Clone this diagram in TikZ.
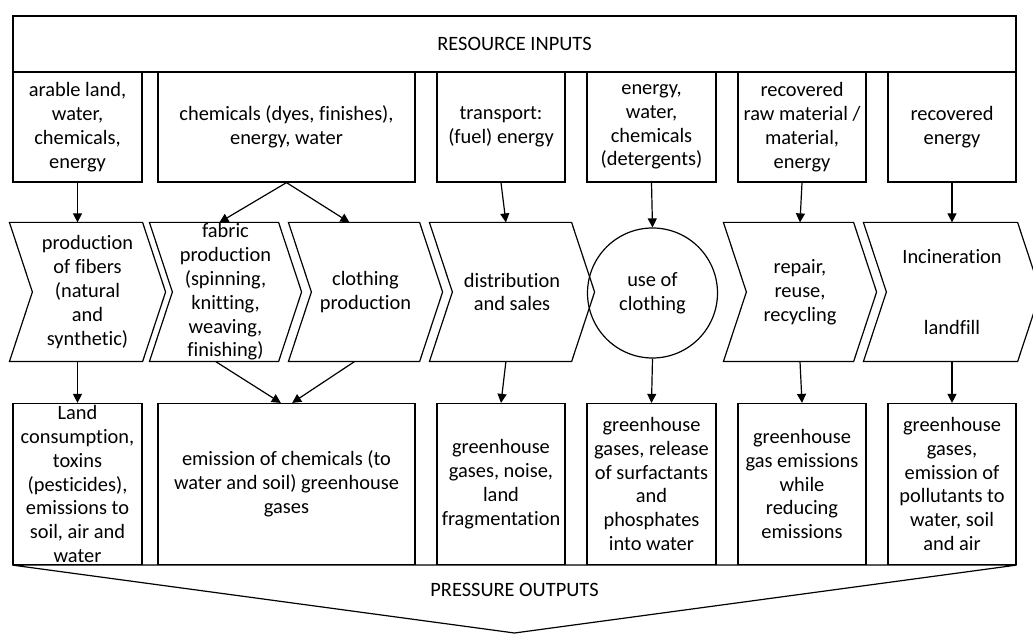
\documentclass[tikz,border=0pt]{standalone}
\usepackage{fontspec}
\setmainfont{Carlito}[Ligatures=NoCommon]
\usepackage{tikz}
\usetikzlibrary{arrows.meta}

\begin{document}
\begin{tikzpicture}[x=0.5pt, y=-0.5pt, line width=0.6pt,
		text_style/.style={align=center, inner sep=0pt, font=\fontsize{10.2}{11.9}\selectfont},
		box_style/.style={text_style, rectangle, draw=black},
		in_style/.style={box_style, minimum height=55pt},
		out_style/.style={box_style, minimum height=80.5pt},
		stage_style/.style={text_style, rectangle, minimum height=69pt},
		circle_style/.style={text_style, circle, draw=black, minimum size=65pt},
		edge_style/.style={draw=black, -{Triangle[length=4.5pt,width=4.5pt]}}]

		\useasboundingbox (0,0) rectangle (1033,635);

		% resource inputs
		\node[box_style, minimum width=501.5pt, minimum height=28pt] (inputs) at (514.5,44) {RESOURCE INPUTS};
		\node[in_style, minimum width=64.5pt] (in1) at (77.5,127) {arable land,\\ water,\\ chemicals,\\ energy};
		\node[in_style, minimum width=128.5pt] (in2) at (286.5,127) {chemicals (dyes, finishes),\\ energy, water};
		\node[in_style, minimum width=64pt] (in3) at (501,127) {transport:\\ (fuel) energy};
		\node[in_style, minimum width=64.5pt] (in4) at (651.5,127) {energy,\\ water,\\ chemicals\\ (detergents)};
		\node[in_style, minimum width=64pt] (in5) at (802,127) {recovered\\ raw material /\\ material,\\ energy};
		\node[in_style, minimum width=64pt] (in6) at (952,127) {recovered\\ energy};

		% life cycle stages
		\node[stage_style, minimum width=54.5pt] (fibers) at (87.5,292) {production\\ of fibers\\ (natural\\ and\\ synthetic)};
		\node[stage_style, minimum width=52.5pt] (fabric) at (225.5,292) {fabric\\ production\\ (spinning,\\ knitting,\\ weaving,\\ finishing)};
		\node[stage_style, minimum width=53.5pt] (clothing) at (365.5,292) {clothing\\ production};
		\node[stage_style, minimum width=59pt] (dist) at (512,292) {distribution\\ and sales};
		\node[stage_style, minimum width=53pt] (repair) at (800,292) {repair,\\ reuse,\\ recycling};
		\node[stage_style, minimum width=65pt] (incin) at (952,292) {Incineration\\[24pt] landfill};

		\draw ([xshift=-11.5pt]fibers.north west) -- (fibers.north east) -- ([xshift=11.5pt]fibers.east) -- (fibers.south east) -- ([xshift=-11.5pt]fibers.south west) -- (fibers.west) -- cycle;
		\draw ([xshift=-11.5pt]fabric.north west) -- (fabric.north east) -- ([xshift=11.5pt]fabric.east) -- (fabric.south east) -- ([xshift=-11.5pt]fabric.south west) -- (fabric.west) -- cycle;
		\draw ([xshift=-11.5pt]clothing.north west) -- (clothing.north east) -- ([xshift=11.5pt]clothing.east) -- (clothing.south east) -- ([xshift=-11.5pt]clothing.south west) -- (clothing.west) -- cycle;
		\draw ([xshift=-11.5pt]dist.north west) -- (dist.north east) -- ([xshift=11.5pt]dist.east) -- (dist.south east) -- ([xshift=-11.5pt]dist.south west) -- (dist.west) -- cycle;
		\draw ([xshift=-11.5pt]repair.north west) -- (repair.north east) -- ([xshift=11.5pt]repair.east) -- (repair.south east) -- ([xshift=-11.5pt]repair.south west) -- (repair.west) -- cycle;
		\draw ([xshift=-11.5pt]incin.north west) -- (incin.north east) -- ([xshift=11.5pt]incin.east) -- (incin.south east) -- ([xshift=-11.5pt]incin.south west) -- (incin.west) -- cycle;

		\node[circle_style] (usage) at (652.5,293) {use of\\ clothing};

		% pressure outputs
		\node[out_style, minimum width=64.5pt] (out1) at (77.5,484) {Land\\ consumption,\\ toxins\\ (pesticides),\\ emissions to\\ soil, air and\\ water};
		\node[out_style, minimum width=128.5pt] (out2) at (286.5,484) {emission of chemicals (to\\ water and soil) greenhouse\\ gases};
		\node[out_style, minimum width=64pt] (out3) at (501,484) {greenhouse\\ gases, noise,\\ land\\ fragmentation};
		\node[out_style, minimum width=64.5pt] (out4) at (651.5,484) {greenhouse\\ gases, release\\ of surfactants\\ and\\ phosphates\\ into water};
		\node[out_style, minimum width=64pt] (out5) at (802,484) {greenhouse\\ gas emissions\\ while\\ reducing\\ emissions};
		\node[out_style, minimum width=64pt] (out6) at (952,484) {greenhouse\\ gases,\\ emission of\\ pollutants to\\ water, soil\\ and air};

		\coordinate (apex) at (514.5,633);
		\draw (out1.south west) -- (apex) -- (out6.south east) -- cycle;
		\node[text_style] (outputs) at (514.5,590) {PRESSURE OUTPUTS};

		\draw[edge_style] (in1.south) -- (in1.south |- fibers.north);
		\draw[edge_style] (in2.south) -- (fabric.95);
		\draw[edge_style] (in2.south) -- (clothing.103);
		\draw[edge_style] (in3.south) -- (dist.95);
		\draw[edge_style] (in4.south) -- (usage.north);
		\draw[edge_style] (in5.south) -- (repair.north);
		\draw[edge_style] (in6.south) -- (incin.north);

		\draw[edge_style] (out1.north |- fibers.south) -- (out1.north);
		\draw[edge_style] (fabric.262) -- (out2.94);
		\draw[edge_style] (clothing.261) -- (out2.86);
		\draw[edge_style] (dist.265) -- (out3.north);
		\draw[edge_style] (usage.south) -- (out4.north);
		\draw[edge_style] (repair.south) -- (out5.north);
		\draw[edge_style] (incin.south) -- (out6.north);
		\end{tikzpicture}
\end{document}
